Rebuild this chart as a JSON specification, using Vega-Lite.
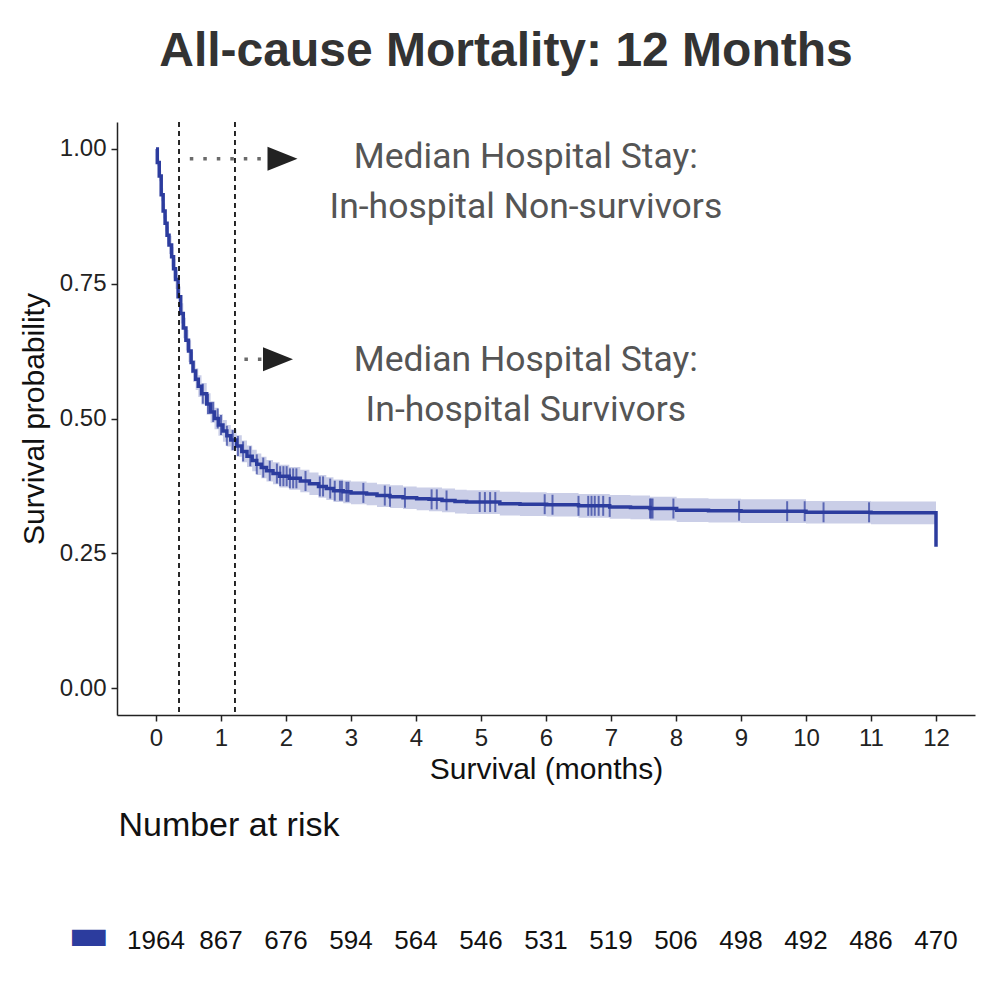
{
  "$schema": "https://vega.github.io/schema/vega-lite/v6.json",
  "background": "white",
  "padding": {"left": 19, "top": 28, "right": 10, "bottom": 10},
  "config": {
    "view": {"stroke": null},
    "font": "Liberation Sans",
    "concat": {"spacing": 25},
    "axis": {"grid": false, "labelFont": "Liberation Sans", "titleFont": "Liberation Sans", "labelFontSize": 24, "titleFontSize": 30, "titleFontWeight": "normal", "labelColor": "#222", "titleColor": "#111", "domainColor": "#222", "tickColor": "#222", "domainWidth": 1.5, "tickWidth": 1.5, "tickSize": 6}
  },
  "datasets": {
    "km": [
      {"t": 0, "s": 1.0, "lo": 1.0, "hi": 1.0},
      {"t": 0.02, "s": 0.975, "lo": 0.968, "hi": 0.982},
      {"t": 0.05, "s": 0.95, "lo": 0.94, "hi": 0.96},
      {"t": 0.08, "s": 0.915, "lo": 0.903, "hi": 0.927},
      {"t": 0.11, "s": 0.885, "lo": 0.871, "hi": 0.899},
      {"t": 0.14, "s": 0.862, "lo": 0.847, "hi": 0.877},
      {"t": 0.17, "s": 0.84, "lo": 0.824, "hi": 0.856},
      {"t": 0.2, "s": 0.822, "lo": 0.805, "hi": 0.839},
      {"t": 0.24, "s": 0.8, "lo": 0.782, "hi": 0.818},
      {"t": 0.27, "s": 0.778, "lo": 0.76, "hi": 0.796},
      {"t": 0.3, "s": 0.758, "lo": 0.74, "hi": 0.776},
      {"t": 0.34, "s": 0.726, "lo": 0.707, "hi": 0.745},
      {"t": 0.38, "s": 0.695, "lo": 0.676, "hi": 0.714},
      {"t": 0.42, "s": 0.668, "lo": 0.649, "hi": 0.687},
      {"t": 0.46, "s": 0.645, "lo": 0.626, "hi": 0.664},
      {"t": 0.5, "s": 0.625, "lo": 0.605, "hi": 0.645},
      {"t": 0.54, "s": 0.604, "lo": 0.584, "hi": 0.624},
      {"t": 0.57, "s": 0.588, "lo": 0.568, "hi": 0.608},
      {"t": 0.61, "s": 0.573, "lo": 0.553, "hi": 0.593},
      {"t": 0.65, "s": 0.56, "lo": 0.54, "hi": 0.58},
      {"t": 0.7, "s": 0.546, "lo": 0.526, "hi": 0.566},
      {"t": 0.78, "s": 0.527, "lo": 0.507, "hi": 0.547},
      {"t": 0.84, "s": 0.512, "lo": 0.492, "hi": 0.532},
      {"t": 0.9, "s": 0.5, "lo": 0.48, "hi": 0.52},
      {"t": 0.96, "s": 0.488, "lo": 0.468, "hi": 0.508},
      {"t": 1.03, "s": 0.477, "lo": 0.457, "hi": 0.497},
      {"t": 1.09, "s": 0.468, "lo": 0.448, "hi": 0.488},
      {"t": 1.15, "s": 0.46, "lo": 0.44, "hi": 0.48},
      {"t": 1.24, "s": 0.449, "lo": 0.429, "hi": 0.469},
      {"t": 1.32, "s": 0.439, "lo": 0.419, "hi": 0.459},
      {"t": 1.4, "s": 0.43, "lo": 0.41, "hi": 0.45},
      {"t": 1.48, "s": 0.422, "lo": 0.402, "hi": 0.442},
      {"t": 1.55, "s": 0.415, "lo": 0.395, "hi": 0.435},
      {"t": 1.62, "s": 0.409, "lo": 0.389, "hi": 0.429},
      {"t": 1.7, "s": 0.403, "lo": 0.383, "hi": 0.423},
      {"t": 1.8, "s": 0.398, "lo": 0.378, "hi": 0.419},
      {"t": 1.9, "s": 0.393, "lo": 0.372, "hi": 0.414},
      {"t": 2.05, "s": 0.389, "lo": 0.368, "hi": 0.41},
      {"t": 2.22, "s": 0.384, "lo": 0.363, "hi": 0.405},
      {"t": 2.36, "s": 0.379, "lo": 0.358, "hi": 0.4},
      {"t": 2.5, "s": 0.374, "lo": 0.353, "hi": 0.395},
      {"t": 2.62, "s": 0.37, "lo": 0.349, "hi": 0.391},
      {"t": 2.73, "s": 0.366, "lo": 0.345, "hi": 0.387},
      {"t": 2.88, "s": 0.364, "lo": 0.343, "hi": 0.385},
      {"t": 3.0, "s": 0.362, "lo": 0.341, "hi": 0.383},
      {"t": 3.24, "s": 0.36, "lo": 0.339, "hi": 0.381},
      {"t": 3.4, "s": 0.357, "lo": 0.336, "hi": 0.378},
      {"t": 3.6, "s": 0.355, "lo": 0.334, "hi": 0.376},
      {"t": 3.8, "s": 0.353, "lo": 0.332, "hi": 0.374},
      {"t": 4.01, "s": 0.351, "lo": 0.33, "hi": 0.372},
      {"t": 4.2, "s": 0.35, "lo": 0.328, "hi": 0.372},
      {"t": 4.4, "s": 0.348, "lo": 0.326, "hi": 0.37},
      {"t": 4.6, "s": 0.346, "lo": 0.324, "hi": 0.368},
      {"t": 4.78, "s": 0.345, "lo": 0.323, "hi": 0.367},
      {"t": 5.29, "s": 0.342, "lo": 0.32, "hi": 0.364},
      {"t": 5.6, "s": 0.341, "lo": 0.319, "hi": 0.363},
      {"t": 6.01, "s": 0.34, "lo": 0.318, "hi": 0.362},
      {"t": 6.5, "s": 0.338, "lo": 0.316, "hi": 0.36},
      {"t": 6.98, "s": 0.336, "lo": 0.314, "hi": 0.358},
      {"t": 7.3, "s": 0.335, "lo": 0.313, "hi": 0.357},
      {"t": 7.6, "s": 0.333, "lo": 0.311, "hi": 0.355},
      {"t": 8.01, "s": 0.33, "lo": 0.308, "hi": 0.352},
      {"t": 8.5, "s": 0.329, "lo": 0.307, "hi": 0.351},
      {"t": 9.0, "s": 0.328, "lo": 0.306, "hi": 0.35},
      {"t": 10.0, "s": 0.326, "lo": 0.305, "hi": 0.347},
      {"t": 11.0, "s": 0.325, "lo": 0.304, "hi": 0.346},
      {"t": 12.0, "s": 0.262, "lo": 0.304, "hi": 0.346}
    ],
    "censor": [
      {"t": 0.72, "s": 0.546}, {"t": 0.8, "s": 0.527}, {"t": 0.88, "s": 0.512}, {"t": 0.95, "s": 0.5},
      {"t": 1.0, "s": 0.488}, {"t": 1.09, "s": 0.468}, {"t": 1.18, "s": 0.46}, {"t": 1.26, "s": 0.449},
      {"t": 1.34, "s": 0.439}, {"t": 1.45, "s": 0.43}, {"t": 1.55, "s": 0.415}, {"t": 1.65, "s": 0.409},
      {"t": 1.75, "s": 0.403}, {"t": 1.86, "s": 0.398}, {"t": 1.91, "s": 0.393}, {"t": 1.96, "s": 0.393},
      {"t": 2.01, "s": 0.393}, {"t": 2.06, "s": 0.389}, {"t": 2.11, "s": 0.389}, {"t": 2.16, "s": 0.389},
      {"t": 2.3, "s": 0.384}, {"t": 2.52, "s": 0.374}, {"t": 2.57, "s": 0.374}, {"t": 2.68, "s": 0.37},
      {"t": 2.75, "s": 0.366}, {"t": 2.83, "s": 0.366}, {"t": 2.86, "s": 0.366}, {"t": 2.93, "s": 0.364},
      {"t": 2.96, "s": 0.364}, {"t": 3.19, "s": 0.362}, {"t": 3.52, "s": 0.357}, {"t": 3.6, "s": 0.355},
      {"t": 3.83, "s": 0.353}, {"t": 4.24, "s": 0.35}, {"t": 4.32, "s": 0.35}, {"t": 4.47, "s": 0.348},
      {"t": 4.98, "s": 0.345}, {"t": 5.06, "s": 0.345}, {"t": 5.14, "s": 0.345}, {"t": 5.22, "s": 0.345},
      {"t": 5.98, "s": 0.341}, {"t": 6.1, "s": 0.34}, {"t": 6.5, "s": 0.338}, {"t": 6.65, "s": 0.338},
      {"t": 6.7, "s": 0.338}, {"t": 6.75, "s": 0.338}, {"t": 6.81, "s": 0.338}, {"t": 6.88, "s": 0.338},
      {"t": 6.98, "s": 0.336}, {"t": 7.6, "s": 0.333}, {"t": 7.62, "s": 0.333}, {"t": 7.64, "s": 0.333},
      {"t": 7.96, "s": 0.333}, {"t": 8.97, "s": 0.329}, {"t": 9.71, "s": 0.328}, {"t": 9.98, "s": 0.328},
      {"t": 10.27, "s": 0.326}, {"t": 10.97, "s": 0.326}
    ],
    "vlines": [{"t": 0.354}, {"t": 1.215}],
    "arrows": [{"t": 0.52, "t2": 1.74, "s": 0.982}, {"t": 1.36, "t2": 1.74, "s": 0.61}],
    "heads": [{"t": 1.946, "s": 0.982}, {"t": 1.877, "s": 0.61}],
    "notes": [
      {"label": "Median Hospital Stay:", "t": 5.69, "s": 0.965},
      {"label": "In-hospital Non-survivors", "t": 5.69, "s": 0.872},
      {"label": "Median Hospital Stay:", "t": 5.69, "s": 0.588},
      {"label": "In-hospital Survivors", "t": 5.69, "s": 0.495}
    ],
    "risk": [
      {"t": 0, "n": "1964", "strata": "All"}, {"t": 1, "n": "867", "strata": "All"}, {"t": 2, "n": "676", "strata": "All"},
      {"t": 3, "n": "594", "strata": "All"}, {"t": 4, "n": "564", "strata": "All"}, {"t": 5, "n": "546", "strata": "All"},
      {"t": 6, "n": "531", "strata": "All"}, {"t": 7, "n": "519", "strata": "All"}, {"t": 8, "n": "506", "strata": "All"},
      {"t": 9, "n": "498", "strata": "All"}, {"t": 10, "n": "492", "strata": "All"}, {"t": 11, "n": "486", "strata": "All"},
      {"t": 12, "n": "470", "strata": "All"}
    ]
  },
  "vconcat": [
    {
      "width": 858,
      "height": 593,
      "title": {"text": "All-cause Mortality: 12 Months", "fontSize": 48, "font": "Liberation Sans", "fontWeight": "bold", "color": "#333", "anchor": "middle", "dx": -40, "offset": 45},
      "layer": [
        {
          "data": {"name": "km"},
          "mark": {"type": "area", "interpolate": "step-after", "color": "#2C3C9E", "opacity": 0.25},
          "encoding": {
            "x": {"field": "t", "type": "quantitative", "scale": {"domain": [-0.6, 12.6], "nice": false, "zero": false},
                  "axis": {"values": [0,1,2,3,4,5,6,7,8,9,10,11,12], "format": "d", "title": "Survival (months)", "labelPadding": 5, "titlePadding": 4}},
            "y": {"field": "lo", "type": "quantitative", "scale": {"domain": [-0.05, 1.05], "nice": false, "zero": false},
                  "axis": {"values": [0, 0.25, 0.5, 0.75, 1], "format": ".2f", "title": "Survival probability", "labelPadding": 5, "titlePadding": 10}},
            "y2": {"field": "hi"}
          }
        },
        {
          "data": {"name": "km"},
          "mark": {"type": "line", "interpolate": "step-after", "color": "#2C3C9E", "strokeWidth": 3.5},
          "encoding": {
            "x": {"field": "t", "type": "quantitative"},
            "y": {"field": "s", "type": "quantitative"}
          }
        },
        {
          "data": {"name": "censor"},
          "mark": {"type": "tick", "orient": "vertical", "color": "#2C3C9E", "size": 20, "thickness": 2},
          "encoding": {
            "x": {"field": "t", "type": "quantitative"},
            "y": {"field": "s", "type": "quantitative"}
          }
        },
        {
          "data": {"name": "vlines"},
          "mark": {"type": "rule", "color": "#111", "strokeWidth": 1.8, "strokeDash": [5, 4]},
          "encoding": {"x": {"field": "t", "type": "quantitative"}}
        },
        {
          "data": {"name": "arrows"},
          "mark": {"type": "rule", "color": "#6a6a6a", "strokeWidth": 3.5, "strokeDash": [3.5, 10]},
          "encoding": {
            "x": {"field": "t", "type": "quantitative"},
            "x2": {"field": "t2"},
            "y": {"field": "s", "type": "quantitative"}
          }
        },
        {
          "data": {"name": "heads"},
          "mark": {"type": "point", "shape": "M-1,-0.8L1,0L-1,0.8Z", "filled": true, "color": "#222", "opacity": 1, "size": 900, "strokeWidth": 0},
          "encoding": {
            "x": {"field": "t", "type": "quantitative"},
            "y": {"field": "s", "type": "quantitative"}
          }
        },
        {
          "data": {"name": "notes"},
          "mark": {"type": "text", "font": "Roboto", "fontSize": 35.5, "color": "#555", "align": "center", "baseline": "alphabetic"},
          "encoding": {
            "x": {"field": "t", "type": "quantitative"},
            "y": {"field": "s", "type": "quantitative"},
            "text": {"field": "label"}
          }
        }
      ]
    },
    {
      "width": 858,
      "height": 60,
      "title": {"text": "Number at risk", "anchor": "start", "fontSize": 34, "fontWeight": "normal", "color": "#111", "font": "Liberation Sans", "offset": 68, "dx": 51},
      "data": {"name": "risk"},
      "mark": {"type": "text", "fontSize": 26, "color": "#111", "font": "Liberation Sans"},
      "encoding": {
        "x": {"field": "t", "type": "quantitative", "scale": {"domain": [-0.6, 12.6], "nice": false, "zero": false}, "axis": null},
        "y": {"field": "strata", "type": "nominal", "axis": {"title": null, "labelExpr": "'▬'", "labelColor": "#2C3C9E", "labelFontSize": 44, "labelFont": "DejaVu Sans", "labelBaseline": "middle", "labelOffset": -6, "labelPadding": 8, "ticks": false, "domain": false}},
        "text": {"field": "n", "type": "nominal"}
      }
    }
  ]
}
